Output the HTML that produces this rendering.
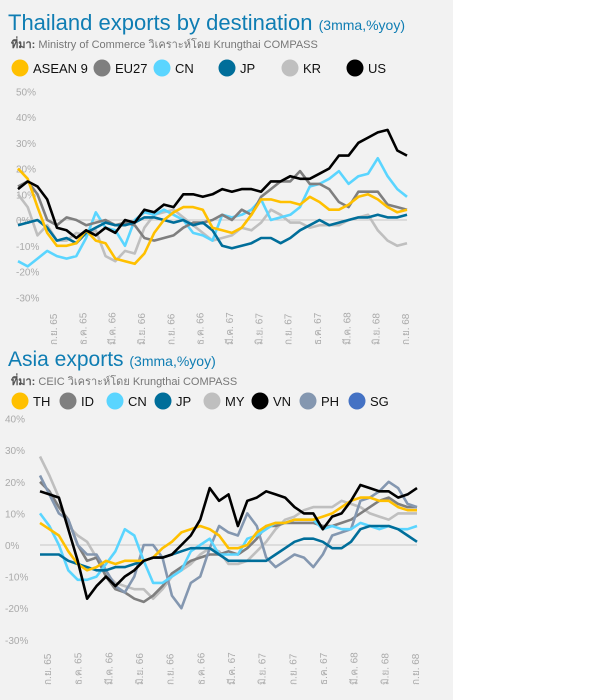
<!DOCTYPE html>
<html><head><meta charset="utf-8">
<style>
html,body{margin:0;padding:0;background:#fff;}
svg{display:block;font-family:"Liberation Sans","DejaVu Sans",sans-serif;}
</style></head>
<body>
<svg id="s" width="600" height="700" xmlns="http://www.w3.org/2000/svg">
<rect x="0" y="0" width="453" height="700" fill="#f2f2f2"/>
<text x="8" y="30" font-size="22" fill="#0f7db3">Thailand exports by destination <tspan font-size="14">(3mma,%yoy)</tspan></text>
<text x="11" y="48" font-size="11" fill="#777"><tspan font-weight="bold" fill="#555">ที่มา:</tspan> Ministry of Commerce วิเคราะห์โดย Krungthai COMPASS</text>
<text x="8" y="366" font-size="21" fill="#0f7db3">Asia exports <tspan font-size="14">(3mma,%yoy)</tspan></text>
<text x="11" y="385" font-size="11" fill="#777"><tspan font-weight="bold" fill="#555">ที่มา:</tspan> CEIC วิเคราะห์โดย Krungthai COMPASS</text>
<g id="g"></g>
</svg>
<script>
var NS="http://www.w3.org/2000/svg",g=document.getElementById("g");
function el(t,a,txt){var e=document.createElementNS(NS,t);for(var k in a)e.setAttribute(k,a[k]);if(txt!=null)e.textContent=txt;g.appendChild(e);return e;}
function legend(y,items){items.forEach(function(it){el("circle",{cx:it[0],cy:y,r:8.5,fill:it[2]});el("text",{x:it[0]+13,y:y+5,"font-size":13,fill:"#111"},it[1]);});}
legend(68,[[20,"ASEAN 9","#ffc000"],[102,"EU27","#7f7f7f"],[162,"CN","#5ad5ff"],[227,"JP","#006e9a"],[290,"KR","#bfbfbf"],[355,"US","#000"]]);
legend(401,[[20,"TH","#ffc000"],[68,"ID","#7f7f7f"],[115,"CN","#5ad5ff"],[163,"JP","#006e9a"],[212,"MY","#bfbfbf"],[260,"VN","#000"],[308,"PH","#8497b0"],[357,"SG","#4472c4"]]);
var labs=["ก.ย. 65","ธ.ค. 65","มี.ค. 66","มิ.ย. 66","ก.ย. 66","ธ.ค. 66","มี.ค. 67","มิ.ย. 67","ก.ย. 67","ธ.ค. 67","มี.ค. 68","มิ.ย. 68","ก.ย. 68"];
function chart(o){
  for(var v=o.top;v>=-30;v-=10){var y=o.z-v/10*o.u;el("text",{x:o.lx,y:y+4,"font-size":10,fill:"#aaa"},v+"%");}
  el("line",{x1:o.x0,x2:o.x1,y1:o.z,y2:o.z,stroke:"#999","stroke-width":0.6});
  labs.forEach(function(l,i){var x=o.t0+i*(o.t1-o.t0)/12;el("text",{x:0,y:0,"font-size":10,fill:"#aaa","text-anchor":"start",transform:"translate("+(x+4)+","+o.ty+") rotate(-90)"},l);});
  o.s.forEach(function(s){var d=s[1],n=d.length,pts=d.map(function(v,i){return (o.x0+i*(o.x1-o.x0)/(n-1)).toFixed(1)+","+(o.z-v/10*o.u).toFixed(1);}).join(" ");
    el("polyline",{points:pts,fill:"none",stroke:s[0],"stroke-width":2.6,"stroke-linejoin":"round"});});
}
chart({top:50,z:220,u:25.75,lx:16,x0:18,x1:407,t0:53,t1:405,ty:345,s:[
["#bfbfbf",[10,5,-6,-2,-8,-8,-5,-6,-4,-14,-16,-12,-13,-3,2,3,4,1,-2,-5,-8,-7,-6,-3,-4,-1,4,2,-1,-1,-3,-2,-2,-2,0,1,2,-4,-8,-10,-9]],
["#5ad5ff",[-16,-18,-15,-12,-14,-15,-14,-7,3,-3,-4,-10,0,3,2,4,2,0,-5,-6,-8,2,1,2,4,8,0,1,2,5,13,14,16,19,14,17,18,24,17,12,9]],
["#7f7f7f",[13,15,10,0,-2,1,0,-2,-1,0,-2,-1,-2,-7,-8,-7,-6,-3,-1,-1,0,2,0,4,2,9,12,15,15,19,14,14,12,7,5,11,11,11,6,5,4]],
["#006e9a",[-2,-1,0,-3,-8,-7,-9,-5,-3,-1,-2,-2,-1,1,1,0,-1,0,-2,-1,-4,-10,-11,-10,-9,-7,-7,-9,-7,-4,-2,0,-2,-1,0,1,1,2,1,1,2]],
["#ffc000",[20,16,5,-5,-10,-10,-9,-4,-8,-9,-15,-16,-17,-13,-5,0,3,5,5,4,-3,-4,-5,-3,2,8,8,7,7,6,9,7,4,4,6,9,10,8,5,3,4]],
["#000",[12,15,13,8,-3,-4,-7,-4,-6,-3,-5,0,-1,4,3,6,5,10,10,9,10,12,11,12,12,11,15,15,17,16,16,18,20,25,25,30,32,34,35,27,25]]
]});
chart({top:40,z:545,u:31.6,lx:5,x0:40,x1:417,t0:47,t1:415,ty:685,s:[
["#bfbfbf",[28,22,15,6,3,1,-4,-9,-12,-13,-14,-14,-17,-14,-10,-8,-6,-3,-1,-2,-6,-6,-5,-2,1,5,8,9,11,12,12,12,14,13,12,10,9,8,10,10,10]],
["#7f7f7f",[20,17,12,8,0,-5,-4,-10,-14,-15,-17,-18,-16,-13,-9,-7,-5,-4,-3,-3,-2,-3,-1,2,6,6,7,7,7,7,6,6,7,8,10,12,14,15,13,12,12]],
["#8497b0",[22,16,10,8,0,-3,-3,-8,-13,-15,-10,0,0,-4,-16,-20,-12,-10,-1,6,4,3,10,6,-4,-7,-5,-3,-4,-7,-3,3,4,5,14,15,17,20,18,13,12]],
["#5ad5ff",[10,6,0,-8,-11,-11,-10,-6,-2,5,3,-5,-12,-12,-10,-8,-2,0,2,-3,-3,-3,2,3,5,7,7,8,8,8,5,6,5,5,7,6,5,6,5,5,6]],
["#006e9a",[-3,-3,-3,-5,-6,-7,-8,-8,-7,-7,-6,-5,-4,-4,-3,-2,-1,-1,-1,-3,-5,-5,-5,-5,-5,-3,-1,1,2,2,1,-1,-1,1,5,6,6,6,5,3,1]],
["#ffc000",[7,5,3,-2,-6,-8,-7,-5,-6,-5,-5,-5,-4,-1,1,4,5,6,5,3,-1,-1,0,4,6,7,7,8,8,8,9,10,12,14,15,15,14,14,12,11,11]],
["#000",[17,16,15,5,-5,-17,-13,-10,-13,-10,-8,-5,-4,-4,-3,0,3,8,18,14,16,6,14,15,17,16,15,12,10,10,5,9,10,14,19,18,17,17,15,16,18]]
]});
</script>
</body></html>
